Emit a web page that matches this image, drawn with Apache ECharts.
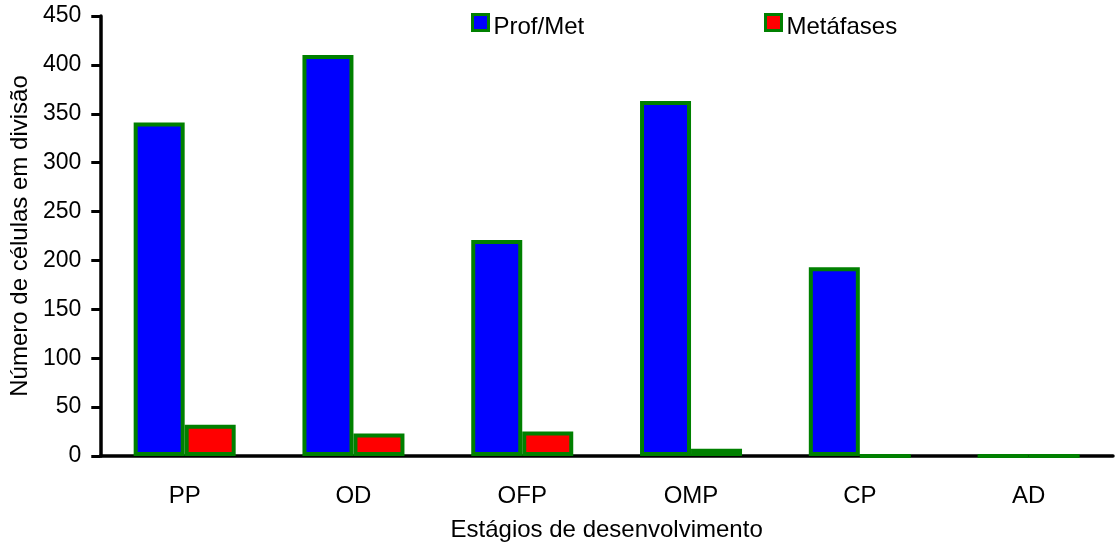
<!DOCTYPE html>
<html><head><meta charset="utf-8">
<script src="https://cdn.jsdelivr.net/npm/echarts@6/dist/echarts.min.js"></script>
<style>html,body{margin:0;padding:0;background:#fff}#c{width:1115px;height:547px}</style>
</head><body><div id="c"></div>
<script>
const categories = ['PP','OD','OFP','OMP','CP','AD'];
const profMet = [341, 410, 221, 363, 193, 0];
const metafases = [32, 23, 25, 7.5, 0, 0];
const yTicks = {min:0, max:450, interval:50};

const font = 'Liberation Sans, Arial, sans-serif';
const fs = 24;
const chart = echarts.init(document.getElementById('c'));
const barStyle = (c)=>({color:c, borderColor:'#008000', borderWidth:4});
const legendText = {fontSize:fs, color:'#000', fontFamily:font,
  rich:{s:{fontSize:1, lineHeight:10}, a:{fontSize:fs, lineHeight:24, color:'#000', fontFamily:font}}};
chart.setOption({
  animation:false,
  textStyle:{fontFamily:font},
  grid:{left:100, right:2, top:16, bottom:90},
  legend:[
    {data:['Prof/Met'], left:471, top:10, padding:0, itemWidth:16, itemHeight:16, icon:'rect',
     formatter:'{s| }\n{a|{name}}',
     itemStyle:{borderColor:'#008000', borderWidth:3}, textStyle:legendText},
    {data:['Metáfases'], left:764, top:10, padding:0, itemWidth:16, itemHeight:16, icon:'rect',
     formatter:'{s| }\n{a|{name}}',
     itemStyle:{borderColor:'#008000', borderWidth:3}, textStyle:legendText}
  ],
  xAxis:{type:'category', data:categories,
    axisLine:{lineStyle:{color:'#000', width:3.5}},
    axisTick:{length:9, lineStyle:{color:'#000', width:3}},
    axisLabel:{fontSize:fs, color:'#000', margin:28, fontFamily:font},
    name:'Estágios de desenvolvimento', nameLocation:'middle', nameGap:62,
    nameTextStyle:{fontSize:fs, color:'#000', fontFamily:font}},
  yAxis:{type:'value', min:yTicks.min, max:yTicks.max, interval:yTicks.interval,
    splitLine:{show:false},
    axisLine:{show:true, lineStyle:{color:'#000', width:3.5}},
    axisTick:{show:true, length:9, lineStyle:{color:'#000', width:3}},
    axisLabel:{fontSize:23, color:'#000', margin:19, fontFamily:font, padding:[4,0,0,0]},
    name:'Número de células em divisão', nameLocation:'middle', nameGap:67,
    nameTextStyle:{fontSize:fs, color:'#000', fontFamily:font}},
  series:[
    {name:'Prof/Met', type:'bar', data:profMet, barWidth:51, barGap:'0%', itemStyle:barStyle('#0000ff')},
    {name:'Metáfases', type:'bar', data:metafases, barWidth:51, barGap:'0%', itemStyle:barStyle('#ff0000')}
  ]
});
</script></body></html>
